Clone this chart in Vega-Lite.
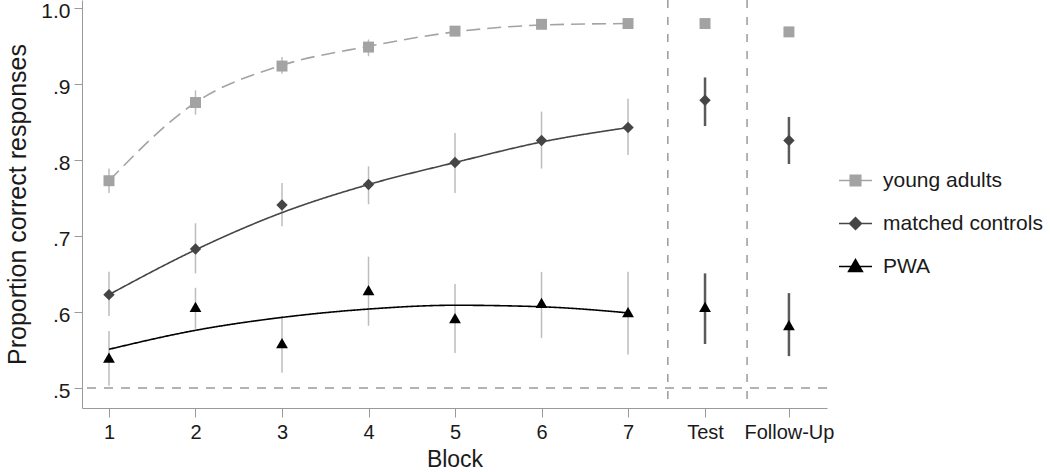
{
  "$schema": "https://vega.github.io/schema/vega-lite/v6.json",
  "autosize": {"type": "none"},
  "width": 745,
  "height": 408,
  "padding": {"left": 82, "top": 0, "right": 223, "bottom": 64},
  "background": "white",
  "config": {
    "view": {"stroke": null},
    "font": "Liberation Sans",
    "axis": {"grid": false, "domainColor": "#9a9a9a", "tickColor": "#9a9a9a", "labelColor": "#1a1a1a", "titleColor": "#1a1a1a", "labelFont": "Liberation Sans", "titleFont": "Liberation Sans", "titleFontWeight": "normal"}
  },
  "data": {
    "values": [
      {"group": "young adults", "x": 1, "phase": "training", "mean": 0.773, "lo": 0.757, "hi": 0.789, "fit": 0.773},
      {"group": "young adults", "x": 2, "phase": "training", "mean": 0.876, "lo": 0.860, "hi": 0.892, "fit": 0.876},
      {"group": "young adults", "x": 3, "phase": "training", "mean": 0.924, "lo": 0.914, "hi": 0.936, "fit": 0.925},
      {"group": "young adults", "x": 4, "phase": "training", "mean": 0.949, "lo": 0.937, "hi": 0.959, "fit": 0.950},
      {"group": "young adults", "x": 5, "phase": "training", "mean": 0.970, "lo": 0.964, "hi": 0.976, "fit": 0.969},
      {"group": "young adults", "x": 6, "phase": "training", "mean": 0.979, "lo": 0.974, "hi": 0.984, "fit": 0.978},
      {"group": "young adults", "x": 7, "phase": "training", "mean": 0.980, "lo": 0.975, "hi": 0.985, "fit": 0.980},
      {"group": "young adults", "x": 7.89, "phase": "test", "mean": 0.980, "lo": 0.975, "hi": 0.985},
      {"group": "young adults", "x": 8.86, "phase": "test", "mean": 0.969, "lo": 0.963, "hi": 0.975},
      {"group": "matched controls", "x": 1, "phase": "training", "mean": 0.623, "lo": 0.595, "hi": 0.653, "fit": 0.623},
      {"group": "matched controls", "x": 2, "phase": "training", "mean": 0.683, "lo": 0.651, "hi": 0.717, "fit": 0.682},
      {"group": "matched controls", "x": 3, "phase": "training", "mean": 0.741, "lo": 0.713, "hi": 0.770, "fit": 0.731},
      {"group": "matched controls", "x": 4, "phase": "training", "mean": 0.768, "lo": 0.742, "hi": 0.792, "fit": 0.768},
      {"group": "matched controls", "x": 5, "phase": "training", "mean": 0.797, "lo": 0.757, "hi": 0.836, "fit": 0.797},
      {"group": "matched controls", "x": 6, "phase": "training", "mean": 0.826, "lo": 0.789, "hi": 0.864, "fit": 0.824},
      {"group": "matched controls", "x": 7, "phase": "training", "mean": 0.843, "lo": 0.807, "hi": 0.881, "fit": 0.843},
      {"group": "matched controls", "x": 7.89, "phase": "test", "mean": 0.879, "lo": 0.845, "hi": 0.909},
      {"group": "matched controls", "x": 8.86, "phase": "test", "mean": 0.826, "lo": 0.795, "hi": 0.857},
      {"group": "PWA", "x": 1, "phase": "training", "mean": 0.540, "lo": 0.503, "hi": 0.575, "fit": 0.551},
      {"group": "PWA", "x": 2, "phase": "training", "mean": 0.607, "lo": 0.578, "hi": 0.632, "fit": 0.576},
      {"group": "PWA", "x": 3, "phase": "training", "mean": 0.559, "lo": 0.520, "hi": 0.595, "fit": 0.593},
      {"group": "PWA", "x": 4, "phase": "training", "mean": 0.629, "lo": 0.582, "hi": 0.673, "fit": 0.604},
      {"group": "PWA", "x": 5, "phase": "training", "mean": 0.592, "lo": 0.546, "hi": 0.637, "fit": 0.609},
      {"group": "PWA", "x": 6, "phase": "training", "mean": 0.612, "lo": 0.566, "hi": 0.653, "fit": 0.607},
      {"group": "PWA", "x": 7, "phase": "training", "mean": 0.600, "lo": 0.544, "hi": 0.653, "fit": 0.599},
      {"group": "PWA", "x": 7.89, "phase": "test", "mean": 0.607, "lo": 0.558, "hi": 0.651},
      {"group": "PWA", "x": 8.86, "phase": "test", "mean": 0.583, "lo": 0.542, "hi": 0.625}
    ]
  },
  "resolve": {
    "scale": {"color": "independent", "shape": "independent", "stroke": "independent", "size": "independent"},
    "legend": {"color": "independent", "shape": "independent", "stroke": "independent", "size": "independent"}
  },
  "layer": [
    {
      "data": {"values": [{"y": 0.5}]},
      "mark": {"type": "rule", "color": "#9a9a9a", "strokeWidth": 1.5, "strokeDash": [9, 8]},
      "encoding": {"y": {"field": "y", "type": "quantitative"}}
    },
    {
      "data": {"values": [{"x": 7.46}, {"x": 8.376}]},
      "mark": {"type": "rule", "color": "#9a9a9a", "strokeWidth": 1.5, "strokeDash": [8, 9]},
      "encoding": {"x": {"field": "x", "type": "quantitative"}}
    },
    {
      "mark": {"type": "rule"},
      "encoding": {
        "x": {"field": "x", "type": "quantitative"},
        "y": {"field": "lo", "type": "quantitative"},
        "y2": {"field": "hi"},
        "color": {"condition": {"test": "datum.phase === 'test'", "value": "#5a5a5a"}, "value": "#bdbdbd"},
        "strokeWidth": {"condition": {"test": "datum.phase === 'test'", "value": 2.5}, "value": 1.5}
      }
    },
    {
      "transform": [{"filter": "isValid(datum.fit)"}],
      "mark": {"type": "line", "interpolate": "monotone", "strokeWidth": 1.6},
      "encoding": {
        "x": {"field": "x", "type": "quantitative"},
        "y": {"field": "fit", "type": "quantitative"},
        "detail": {"field": "group"},
        "color": {"field": "group", "type": "nominal", "legend": null, "scale": {"domain": ["young adults", "matched controls", "PWA"], "range": ["#a3a3a3", "#454545", "#000000"]}},
        "strokeDash": {"field": "group", "type": "nominal", "legend": null, "scale": {"domain": ["young adults", "matched controls", "PWA"], "range": [[14, 7], [1, 0], [1, 0]]}}
      }
    },
    {
      "mark": {"type": "point", "filled": true, "opacity": 1},
      "encoding": {
        "x": {
          "field": "x", "type": "quantitative",
          "scale": {"domain": [0.688, 9.3], "nice": false, "zero": false},
          "axis": {
            "values": [1, 2, 3, 4, 5, 6, 7, 7.89, 8.86],
            "labelExpr": "datum.value == 7.89 ? 'Test' : datum.value == 8.86 ? 'Follow-Up' : format(datum.value, 'd')",
            "title": "Block", "titleFontSize": 23, "titlePadding": 6,
            "labelFontSize": 20, "tickSize": 9, "labelPadding": 5, "labelFlush": false, "labelOverlap": false
          }
        },
        "y": {
          "field": "mean", "type": "quantitative",
          "scale": {"domain": [0.4737, 1.011], "nice": false, "zero": false},
          "axis": {
            "values": [0.5, 0.6, 0.7, 0.8, 0.9, 1.0],
            "labelExpr": "datum.value == 1 ? '1.0' : replace(format(datum.value, '.1f'), '0.', '.')",
            "title": "Proportion correct responses", "titleFontSize": 25, "titlePadding": 10,
            "labelFontSize": 21, "tickSize": 8, "labelPadding": 4, "labelOffset": 3, "labelFlush": false, "labelOverlap": false
          }
        },
        "color": {
          "field": "group", "type": "nominal", "legend": null,
          "scale": {"domain": ["young adults", "matched controls", "PWA"], "range": ["#a3a3a3", "#454545", "#000000"]}
        },
        "shape": {
          "field": "group", "type": "nominal", "legend": null,
          "scale": {"domain": ["young adults", "matched controls", "PWA"], "range": ["square", "diamond", "triangle-up"]}
        },
        "size": {
          "field": "group", "type": "nominal", "legend": null,
          "scale": {"domain": ["young adults", "matched controls", "PWA"], "range": [120, 140, 180]}
        }
      }
    },
    {
      "transform": [{"filter": "datum.x < 0"}],
      "mark": {"type": "point", "filled": true, "opacity": 1, "size": 1089, "strokeWidth": 1.5},
      "encoding": {
        "x": {"field": "x", "type": "quantitative"},
        "y": {"field": "mean", "type": "quantitative"},
        "color": {
          "field": "group", "type": "nominal",
          "scale": {"domain": ["young adults", "matched controls", "PWA"], "range": ["#a3a3a3", "#454545", "#000000"]},
          "legend": {"orient": "none", "legendX": 756, "legendY": 163, "title": null, "padding": 0, "labelFontSize": 21, "labelColor": "#1a1a1a", "symbolSize": 1089, "rowPadding": 15, "labelOffset": 10, "symbolStrokeWidth": 1.5, "symbolOpacity": 1}
        },
        "stroke": {
          "field": "group", "type": "nominal",
          "scale": {"domain": ["young adults", "matched controls", "PWA"], "range": ["#a3a3a3", "#454545", "#000000"]},
          "legend": {"orient": "none", "legendX": 756, "legendY": 163, "title": null, "padding": 0, "labelFontSize": 21, "labelColor": "#1a1a1a", "symbolSize": 1089, "rowPadding": 15, "labelOffset": 10, "symbolStrokeWidth": 1.5, "symbolOpacity": 1}
        },
        "shape": {
          "field": "group", "type": "nominal",
          "scale": {"domain": ["young adults", "matched controls", "PWA"], "range": ["M-1,0H1M-0.32,-0.32H0.32V0.32H-0.32Z", "M-1,0H1M-0.36,0L0,-0.36L0.36,0L0,0.36Z", "M-1,0H1M-0.42,0.3L0,-0.42L0.42,0.3Z"]},
          "legend": {"orient": "none", "legendX": 756, "legendY": 163, "title": null, "padding": 0, "labelFontSize": 21, "labelColor": "#1a1a1a", "symbolSize": 1089, "rowPadding": 15, "labelOffset": 10, "symbolStrokeWidth": 1.5, "symbolOpacity": 1}
        }
      }
    }
  ]
}
